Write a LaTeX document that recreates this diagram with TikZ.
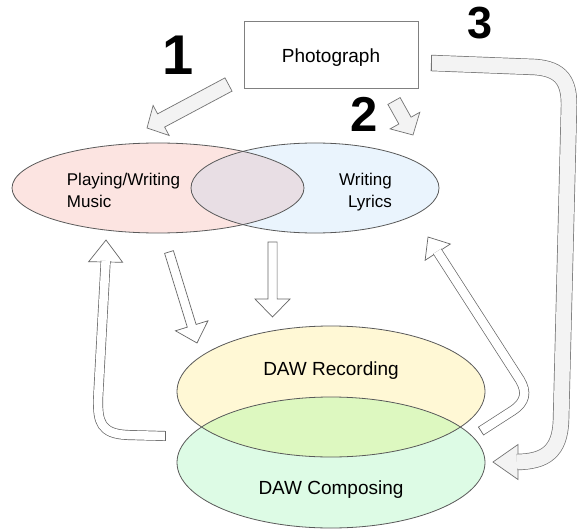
\documentclass[tikz,border=0pt]{standalone}
\usepackage{fontspec}
\setmainfont{Liberation Sans}
\usetikzlibrary{calc,shapes.geometric}
\definecolor{pinkfill}{HTML}{FCE4E1}
\definecolor{bluefill}{HTML}{EAF4FD}
\definecolor{topover}{HTML}{E8DEE4}
\definecolor{yellowfill}{HTML}{FFF8D5}
\definecolor{greenfill}{HTML}{DDFBE5}
\definecolor{botover}{HTML}{DDF8C0}
\definecolor{arrowgray}{HTML}{F3F3F3}
\tikzset{
  outl/.style={draw=black!65, line width=0.8pt},
  blob/.style={ellipse, inner sep=0pt, outer sep=0pt},
  grayarrow/.style={draw=black!55, line width=0.7pt, fill=arrowgray, line join=miter},
  whitearrow/.style={draw=black!60, line width=0.7pt, fill=white, line join=miter},
  grayshaft/.style={draw=black!55, line width=0.7pt, double=arrowgray, double distance=15pt},
  whiteshaft/.style={draw=black!60, line width=0.7pt, double=white, double distance=8.6pt},
  lbl/.style={font=\fontsize{19}{23}\selectfont, inner sep=0pt},
  slbl/.style={font=\fontsize{17}{22.7}\selectfont, inner sep=0pt},
  digit/.style={font=\bfseries, inner sep=0pt},
}
% straight block arrow: from, to, shaft half width, head half width, head length, style
\newcommand\straightblock[6]{%
  \coordinate (sbB) at ($(#2)!#5!(#1)$);
  \draw[#6] ($(#1)!#3!90:(#2)$) -- ($(sbB)!#3!90:(#2)$) -- ($(sbB)!#4!90:(#2)$) -- (#2)
    -- ($(sbB)!#4!-90:(#2)$) -- ($(sbB)!#3!-90:(#2)$) -- ($(#1)!#3!-90:(#2)$) -- cycle;}
% arrow head triangle: tip, point the head comes from, half width, length, style
\newcommand\blockhead[5]{%
  \coordinate (bhB) at ($(#1)!#4!(#2)$);
  \draw[#5] ($(bhB)!#3!90:(#1)$) -- (#1) -- ($(bhB)!#3!-90:(#1)$) -- cycle;}
\begin{document}
\begin{tikzpicture}[x=1pt,y=-1pt]
\useasboundingbox (0,0) rectangle (577,529);
\fill[white] (0,0) rectangle (577,529);

% ---- top ellipses ----
\node[blob, fill=pinkfill, minimum width=292pt, minimum height=90pt] (music) at (158,188) {};
\node[blob, fill=bluefill, minimum width=248pt, minimum height=90pt] (lyrics) at (315,188) {};
\begin{scope}
  \clip (music.center) ellipse [x radius=146pt, y radius=45pt];
  \fill[topover] (lyrics.center) ellipse [x radius=124pt, y radius=45pt];
\end{scope}
\draw[outl] (music.center) ellipse [x radius=146pt, y radius=45pt];
\draw[outl] (lyrics.center) ellipse [x radius=124pt, y radius=45pt];

% ---- bottom ellipses ----
\node[blob, fill=yellowfill, minimum width=308pt, minimum height=131pt] (rec) at (331,391.5) {};
\node[blob, fill=greenfill, minimum width=308pt, minimum height=131pt] (comp) at (331,462.5) {};
\begin{scope}
  \clip (rec.center) ellipse [x radius=154pt, y radius=65.5pt];
  \fill[botover] (comp.center) ellipse [x radius=154pt, y radius=65.5pt];
\end{scope}
\draw[outl] (rec.center) ellipse [x radius=154pt, y radius=65.5pt];
\draw[outl] (comp.center) ellipse [x radius=154pt, y radius=65.5pt];

% ---- photograph box ----
\node[draw=black!50, line width=0.8pt, minimum width=174pt, minimum height=67pt, inner sep=0pt] (photo) at (331,54.5) {};
\node[lbl, anchor=base] (phototext) at (331,62.3) {Photograph};

% ---- labels ----
\node[slbl, anchor=base west, align=left] (musictext) at (66.7,207.7) {Playing/Writing\\Music};
\node[slbl, anchor=base east, align=right] (lyricstext) at (392,207.7) {Writing\\Lyrics};
\node[lbl, anchor=base] (rectext) at (331,375) {DAW Recording};
\node[lbl, anchor=base] (comptext) at (331,494) {DAW Composing};

% ---- digits ----
\node[digit, font=\bfseries\fontsize{56}{56}\selectfont, anchor=base] (one) at (178,75) {1};
\node[digit, font=\bfseries\fontsize{49}{49}\selectfont, anchor=base] (two) at (364,131.7) {2};
\node[digit, font=\bfseries\fontsize{45}{45}\selectfont, anchor=base] (three) at (480,38.3) {3};

% ---- arrow 1 and 2 (gray, straight) ----
\coordinate (a1t) at (228.5,84.5);
\coordinate (a1p) at (147,128);
\straightblock{a1t}{a1p}{7.5pt}{17pt}{16pt}{grayarrow}
\coordinate (a2t) at (394,101);
\coordinate (a2p) at (413,135);
\straightblock{a2t}{a2p}{7pt}{17pt}{16.5pt}{grayarrow}

% ---- arrow 3 (gray, bent) ----
\coordinate (a3t) at (431,63);
\coordinate (a3p) at (493,462);
\coordinate (a3c) at (540,462);
\blockhead{a3p}{a3c}{17.5pt}{25pt}{grayarrow}
\coordinate (a3b) at ($(a3p)!24pt!(a3c)$);
\draw[grayshaft] (a3t) -- (535,67) .. controls (562,69) and (569,82) .. (569,105)
  -- (561,420) .. controls (560,452) and (545,461.5) .. (a3b);
\draw[black!55, line width=0.7pt] ($(a3t)+(0,-8.2)$) -- ($(a3t)+(0,8.2)$);

% ---- straight white arrows ----
\coordinate (dt) at (272.5,242);
\coordinate (dp) at (272.5,317);
\straightblock{dt}{dp}{4.6pt}{17.5pt}{18pt}{whitearrow}
\coordinate (gt) at (169,252);
\coordinate (gp) at (197,343);
\straightblock{gt}{gp}{4.6pt}{17pt}{18pt}{whitearrow}

% ---- left bent arrow (DAW -> music) ----
\coordinate (lut) at (165,436);
\coordinate (lup) at (106,240);
\coordinate (luc) at (105,300);
\blockhead{lup}{luc}{17pt}{22pt}{whitearrow}
\coordinate (lub) at ($(lup)!21pt!(luc)$);
\draw[whiteshaft] (lut) -- (128,435) .. controls (100,434) and (98,421) .. (98,400) -- (lub);
\draw[black!60, line width=0.7pt] ($(lut)+(0,-5)$) -- ($(lut)+(0,5)$);

% ---- right bent arrow (DAW -> lyrics) ----
\coordinate (rat) at (481,431);
\coordinate (raq) at (512,411);
\coordinate (rap) at (428,237);
\coordinate (rac) at (520,380);
\blockhead{rap}{rac}{15pt}{18pt}{whitearrow}
\coordinate (rab) at ($(rap)!17pt!(rac)$);
\draw[whiteshaft] (rat) -- (raq) .. controls (526,402) and (527,392) .. (rac) -- (rab);
\draw[black!60, line width=0.7pt] ($(rat)!5pt!90:(raq)$) -- ($(rat)!5pt!-90:(raq)$);
\end{tikzpicture}
\end{document}
